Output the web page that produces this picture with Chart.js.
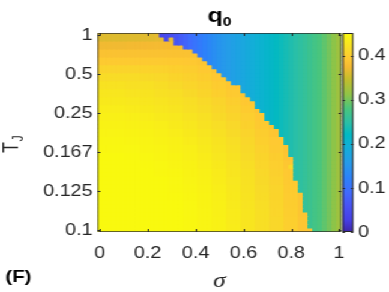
<!DOCTYPE html>
<html>
<head>
<meta charset="utf-8">
<script src="https://cdn.jsdelivr.net/npm/chart.js@4.4.1/dist/chart.umd.min.js"></script>
<style>
html,body{margin:0;padding:0;background:#fff;overflow:hidden;width:389px;height:292px}
#wrap{position:absolute;left:0;top:0;width:324px;height:292px;transform:scaleX(1.20062);transform-origin:0 0}
#wrap canvas{position:absolute;left:0;top:0}
</style>
</head>
<body>
<div id="wrap">
<canvas id="main" width="324" height="292"></canvas>
<canvas id="cbar" width="324" height="292"></canvas>
</div>
<script>
// ---------------- data ----------------
const sigma = [0,0.02,0.04,0.06,0.08,0.1,0.12,0.14,0.16,0.18,0.2,0.22,0.24,0.26,0.28,0.3,0.32,0.34,0.36,0.38,0.4,0.42,0.44,0.46,0.48,0.5,0.52,0.54,0.56,0.58,0.6,0.62,0.64,0.66,0.68,0.7,0.72,0.74,0.76,0.78,0.8,0.82,0.84,0.86,0.88,0.9,0.92,0.94,0.96,0.98,1];
const xTickValues = [0,0.2,0.4,0.6,0.8,1];
const xTickLabels = ['0','0.2','0.4','0.6','0.8','1'];
// rows are numbered 1..50 from top (T_J = 1) to bottom (T_J = 0.1)
const yTickRows = [1,10.8,20.6,30.4,40.2,50];
const yTickLabels = ['1','0.5','0.25','0.167','0.125','0.1'];
const cbarTicks = [0,0.1,0.2,0.3,0.4];
const cbarTickLabels = ['0','0.1','0.2','0.3','0.4'];
const colorMin = 0;
const colorMax = 0.452;
// number of columns (from the left) in the ordered (high q0) phase, per row, top to bottom
const orderedCount = [13,16,16,18,20,21,22,23,24,25,26,27,28,30,30,31,32,33,33,34,35,35,36,37,38,38,39,39,40,40,40,41,41,41,41,41,41,42,42,42,43,43,43,43,43,44,44,44,44,45];
// disordered-phase q0 per column (depends on sigma only)
const disorderedQ = [null,null,null,null,null,null,null,null,null,null,null,null,null,
 0.040,0.045,0.052,0.062,0.072,0.082,0.093,0.103,0.113,0.122,0.131,0.140,0.148,0.155,0.161,0.167,0.173,0.179,0.186,0.193,0.199,0.205,0.211,0.217,0.223,0.229,0.235,0.241,0.247,0.253,0.259,0.266,0.273,0.280,0.290,0.300,0.311,0.322];
// ordered-phase q0, in blocks of 2 rows (top to bottom) x 3 columns (left to right)
const orderedQ = [
 [0.362,0.362,0.363,0.364,0.366,0.368,0.368],
 [0.373,0.373,0.374,0.375,0.376,0.377,0.377],
 [0.385,0.385,0.385,0.385,0.385,0.385,0.385,0.383],
 [0.396,0.396,0.396,0.396,0.396,0.395,0.393,0.389,0.384],
 [0.407,0.407,0.407,0.406,0.405,0.402,0.399,0.394,0.389],
 [0.417,0.417,0.417,0.415,0.412,0.408,0.404,0.399,0.393,0.387],
 [0.424,0.424,0.422,0.421,0.418,0.414,0.409,0.404,0.398,0.392,0.385],
 [0.428,0.428,0.426,0.425,0.422,0.419,0.414,0.408,0.402,0.396,0.389],
 [0.432,0.432,0.430,0.428,0.426,0.423,0.419,0.413,0.407,0.400,0.393,0.386],
 [0.436,0.436,0.434,0.432,0.429,0.426,0.422,0.417,0.411,0.404,0.397,0.389],
 [0.440,0.440,0.438,0.436,0.433,0.430,0.426,0.421,0.415,0.408,0.401,0.393,0.385],
 [0.442,0.442,0.441,0.440,0.437,0.433,0.429,0.424,0.419,0.412,0.404,0.396,0.388],
 [0.444,0.444,0.443,0.442,0.440,0.436,0.432,0.427,0.422,0.415,0.407,0.399,0.391],
 [0.446,0.446,0.445,0.444,0.442,0.440,0.435,0.430,0.425,0.419,0.411,0.402,0.394,0.385],
 [0.448,0.448,0.447,0.445,0.444,0.441,0.438,0.433,0.427,0.421,0.414,0.405,0.396,0.388],
 [0.450,0.450,0.449,0.447,0.445,0.443,0.440,0.435,0.429,0.424,0.416,0.408,0.399,0.390],
 [0.450,0.450,0.450,0.449,0.447,0.444,0.442,0.437,0.432,0.426,0.419,0.410,0.401,0.392],
 [0.450,0.450,0.450,0.450,0.448,0.446,0.443,0.440,0.434,0.427,0.421,0.412,0.403,0.394],
 [0.450,0.450,0.450,0.450,0.450,0.447,0.444,0.441,0.435,0.429,0.423,0.414,0.405,0.396],
 [0.450,0.450,0.450,0.450,0.450,0.448,0.445,0.442,0.437,0.431,0.424,0.416,0.407,0.397],
 [0.450,0.450,0.450,0.450,0.450,0.449,0.446,0.443,0.438,0.432,0.425,0.417,0.408,0.398,0.389],
 [0.450,0.450,0.450,0.450,0.450,0.450,0.447,0.443,0.440,0.433,0.426,0.419,0.409,0.399,0.390],
 [0.450,0.450,0.450,0.450,0.450,0.450,0.447,0.444,0.440,0.434,0.427,0.420,0.410,0.400,0.390],
 [0.450,0.450,0.450,0.450,0.450,0.450,0.448,0.444,0.441,0.434,0.427,0.420,0.411,0.401,0.391],
 [0.450,0.450,0.450,0.450,0.450,0.450,0.448,0.444,0.441,0.435,0.427,0.420,0.411,0.401,0.391]
];
// single cells that differ from their neighbours
const disorderedCells = [{row:1, col:14}];
const specialCells = [{row:33, col:40, q:0.415}];

// ---------------- style ----------------
const FONT = '"Liberation Sans", Arial, Helvetica, sans-serif';
const AXIS_COLOR = '#262626';
const BOX_COLOR = 'rgba(38,38,38,0.7)';
const parulaStops = [
 [0.00,62,38,168],[0.06,70,63,230],[0.13,72,82,244],[0.20,64,107,254],[0.27,45,129,250],
 [0.35,37,155,233],[0.43,18,175,215],[0.49,2,185,195],[0.55,43,191,166],[0.62,74,197,125],
 [0.69,143,196,72],[0.77,197,189,44],[0.83,245,186,50],[0.87,254,200,50],[0.92,248,219,40],[1.00,249,251,14]
];
function parula(q){
  let t = (q - colorMin) / (colorMax - colorMin);
  t = Math.max(0, Math.min(1, t));
  for (let i = 1; i < parulaStops.length; i++) {
    const a = parulaStops[i-1], b = parulaStops[i];
    if (t <= b[0]) {
      const f = (t - a[0]) / (b[0] - a[0]);
      return `rgb(${Math.round(a[1]+(b[1]-a[1])*f)},${Math.round(a[2]+(b[2]-a[2])*f)},${Math.round(a[3]+(b[3]-a[3])*f)})`;
    }
  }
  const l = parulaStops[parulaStops.length-1];
  return `rgb(${l[1]},${l[2]},${l[3]})`;
}
function cellQ(r, c){
  const sp = specialCells.find(s => s.row === r && s.col === c);
  if (sp) return sp.q;
  const dis = disorderedCells.some(s => s.row === r && s.col === c);
  if (!dis && c < orderedCount[r]) {
    const band = orderedQ[Math.floor(r/2)];
    return band[Math.min(Math.floor(c/3), band.length-1)];
  }
  return disorderedQ[c];
}

// ---------------- heatmap datasets: one floating-bar dataset per row ----------------
const datasets = orderedCount.map((_, r) => ({
  data: sigma.map(s => ({x: s, y: [r + 0.5, r + 1.5]})),
  backgroundColor: sigma.map((_, c) => parula(cellQ(r, c))),
  borderWidth: 0,
  grouped: false,
  barPercentage: 1,
  categoryPercentage: 1,
  inflateAmount: 0.5
}));

function line(ctx, x1, y1, x2, y2){ ctx.beginPath(); ctx.moveTo(x1, y1); ctx.lineTo(x2, y2); ctx.stroke(); }

const mainDecor = {
  id: 'mainDecor',
  afterDraw(chart){
    const {ctx, chartArea: a, scales: {x, y}} = chart;
    ctx.save();
    ctx.strokeStyle = BOX_COLOR; ctx.lineWidth = 1;
    ctx.strokeRect(a.left + 0.5, a.top + 0.5, a.right - a.left - 1, a.bottom - a.top - 1);
    ctx.strokeStyle = AXIS_COLOR;
    x.ticks.forEach(t => { const p = Math.round(x.getPixelForValue(t.value)) + 0.5;
      line(ctx, p, a.bottom, p, a.bottom - 3); line(ctx, p, a.top, p, a.top + 3); });
    y.ticks.forEach(t => { const p = Math.round(y.getPixelForValue(t.value)) + 0.5;
      line(ctx, a.left, p, a.left + 2.5, p); line(ctx, a.right, p, a.right - 2.5, p); });
    // title q0
    ctx.fillStyle = '#000'; ctx.textBaseline = 'alphabetic'; ctx.textAlign = 'left';
    ctx.font = 'bold 21px ' + FONT; const wq = ctx.measureText('q').width;
    ctx.font = 'bold 13px ' + FONT; const w0 = ctx.measureText('0').width;
    const sx = (a.left + a.right) / 2 - (wq + w0) / 2;
    ctx.font = 'bold 21px ' + FONT; ctx.fillText('q', sx, 21.5);
    ctx.font = 'bold 13px ' + FONT; ctx.fillText('0', sx + wq, 26);
    // y label T_J
    ctx.fillStyle = AXIS_COLOR;
    ctx.save(); ctx.translate(14.5, 153); ctx.rotate(-Math.PI / 2);
    ctx.font = '18px ' + FONT; ctx.fillText('T', 0, 0);
    const wt = ctx.measureText('T').width;
    ctx.font = '12.5px ' + FONT; ctx.fillText('J', wt + 0.5, 4);
    ctx.restore();
    // x label sigma
    ctx.font = 'italic 21px "Liberation Serif", serif'; ctx.textAlign = 'center';
    ctx.fillText('σ', (a.left + a.right) / 2, 287);
    // panel label
    ctx.fillStyle = '#000'; ctx.textAlign = 'left';
    ctx.font = 'bold 17px ' + FONT; ctx.fillText('(F)', 4.5, 282);
    ctx.restore();
  }
};

new Chart(document.getElementById('main'), {
  type: 'bar',
  data: {datasets},
  options: {
    responsive: false, animation: false, events: [],
    layout: {padding: {left: 0, right: 39.6, top: 33, bottom: 0}},
    plugins: {legend: {display: false}, tooltip: {enabled: false}, title: {display: false}},
    scales: {
      x: {
        type: 'linear', min: -0.01, max: 1.01, offset: false,
        afterBuildTicks: s => { s.ticks = xTickValues.map(v => ({value: v})); },
        afterFit: s => { s.height = 60; },
        grid: {display: false, drawTicks: false}, border: {display: false},
        ticks: {autoSkip: false, maxRotation: 0, padding: 12, color: AXIS_COLOR,
          font: {family: FONT, size: 16.5}, callback: (v, i) => xTickLabels[i]}
      },
      y: {
        type: 'linear', reverse: true, min: 0.5, max: 50.5,
        afterBuildTicks: s => { s.ticks = yTickRows.map(v => ({value: v})); },
        afterFit: s => { s.width = 81.2; },
        grid: {display: false, drawTicks: false}, border: {display: false},
        ticks: {autoSkip: false, padding: 4, color: AXIS_COLOR,
          font: {family: FONT, size: 16.5}, callback: (v, i) => yTickLabels[i]}
      }
    }
  },
  plugins: [mainDecor]
});

// ---------------- colorbar ----------------
function cbarGradient(chart){
  const a = chart.chartArea;
  if (!a) return 'transparent';
  const g = chart.ctx.createLinearGradient(0, a.bottom, 0, a.top);
  parulaStops.forEach(s => g.addColorStop(s[0], `rgb(${s[1]},${s[2]},${s[3]})`));
  return g;
}
const cbarDecor = {
  id: 'cbarDecor',
  afterDraw(chart){
    const {ctx, chartArea: a, scales: {y}} = chart;
    ctx.save();
    ctx.strokeStyle = AXIS_COLOR; ctx.lineWidth = 1;
    ctx.strokeRect(a.left + 0.5, a.top + 0.5, a.right - a.left - 1, a.bottom - a.top - 1);
    y.ticks.forEach(t => { const p = Math.round(y.getPixelForValue(t.value)) + 0.5;
      line(ctx, a.left, p, a.left + 2, p); line(ctx, a.right, p, a.right - 2, p); });
    ctx.restore();
  }
};
new Chart(document.getElementById('cbar'), {
  type: 'bar',
  data: {labels: ['q0'], datasets: [{data: [[colorMin, colorMax]], backgroundColor: c => cbarGradient(c.chart),
    borderWidth: 0, barPercentage: 1, categoryPercentage: 1}]},
  options: {
    responsive: false, animation: false, events: [],
    layout: {padding: {left: 285.3, right: 0, top: 33, bottom: 60}},
    plugins: {legend: {display: false}, tooltip: {enabled: false}},
    scales: {
      x: {display: false},
      y: {
        position: 'right', min: colorMin, max: colorMax,
        afterBuildTicks: s => { s.ticks = cbarTicks.map(v => ({value: v})); },
        afterFit: s => { s.width = 29.7; },
        grid: {display: false, drawTicks: false}, border: {display: false},
        ticks: {autoSkip: false, padding: 4, color: AXIS_COLOR,
          font: {family: FONT, size: 16.5}, callback: (v, i) => cbarTickLabels[i]}
      }
    }
  },
  plugins: [cbarDecor]
});
</script>
</body>
</html>
